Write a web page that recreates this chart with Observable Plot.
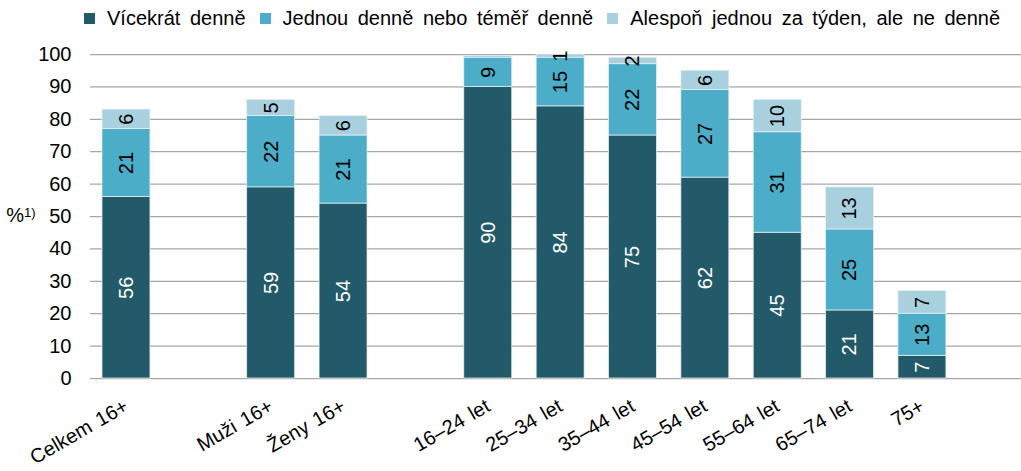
<!DOCTYPE html>
<html>
<head>
<meta charset="utf-8">
<script src="https://cdn.jsdelivr.net/npm/d3@7"></script>
<script src="https://cdn.jsdelivr.net/npm/@observablehq/plot@0.6"></script>
<style>
  body { margin: 0; background: white; font-family: "Liberation Sans", Arial, sans-serif; }
  #legend { height: 36px; width: 1021px; display: flex; flex-wrap: nowrap; align-items: center; padding-left: 84px; box-sizing: border-box; font-size: 20px; color: #000; word-spacing: 4px; white-space: nowrap; }
  #legend .item { display: flex; align-items: center; margin-right: 14px; flex-shrink: 0; white-space: nowrap; }
  #legend .sw { width: 11px; height: 11px; margin-right: 12px; flex-shrink: 0; }
  #chart svg text { word-spacing: 2px; }
</style>
</head>
<body>
<div id="legend"></div>
<div id="chart"></div>
<script>
const categories = ["Celkem 16+", "Muži 16+", "Ženy 16+", "16–24 let", "25–34 let", "35–44 let", "45–54 let", "55–64 let", "65–74 let", "75+"];
const slots = ["Celkem 16+", "gap1", "Muži 16+", "Ženy 16+", "gap2", "16–24 let", "25–34 let", "35–44 let", "45–54 let", "55–64 let", "65–74 let", "75+"];
const series = ["Vícekrát denně", "Jednou denně nebo téměř denně", "Alespoň jednou za týden, ale ne denně"];
const colors = ["#235a69", "#4badc7", "#a9d0de"];
const dark = [56, 59, 54, 90, 84, 75, 62, 45, 21, 7];
const mid = [21, 22, 21, 9, 15, 22, 27, 31, 25, 13];
const light = [6, 5, 6, 0.6, 1, 2, 6, 10, 13, 7];
const yTicks = [0, 10, 20, 30, 40, 50, 60, 70, 80, 90, 100];

const seriesValues = [dark, mid, light];
const rows = [];
categories.forEach((c, i) => {
  series.forEach((s, j) => rows.push({cat: c, series: s, value: seriesValues[j][i]}));
});

// legend
const legend = d3.select("#legend");
series.forEach((s, j) => {
  const it = legend.append("div").attr("class", "item");
  it.append("div").attr("class", "sw").style("background", colors[j]);
  it.append("span").text(s);
});

const label = d => d.value >= 1 ? String(d.value) : null;

const plot = Plot.plot({
  width: 1021,
  height: 435,
  marginLeft: 90,
  marginRight: 0,
  marginTop: 18,
  marginBottom: 93,
  style: {fontFamily: "'Liberation Sans', Arial, sans-serif", fontSize: "20px", color: "#000", background: "white", overflow: "visible"},
  x: {domain: slots, range: [77.6, 970.3], padding: 0.337, round: false, tickRotate: -30, tickSize: 0, tickPadding: 26,
      tickFormat: d => d.startsWith("gap") ? "" : d, label: null},
  y: {domain: [0, 100], ticks: yTicks, tickSize: 0, tickPadding: 19, label: null},
  color: {domain: series, range: colors},
  marks: [
    Plot.ruleY(yTicks, {stroke: "#a6a6a6", strokeWidth: 1.25}),
    Plot.barY(rows, {x: "cat", y: "value", fill: "series", stroke: "#e6f1f4", strokeWidth: 0.75}),
    Plot.text(rows, Plot.stackY({x: "cat", y: "value", text: d => d.series === series[0] ? label(d) : null,
      rotate: -90, fill: "white", fontSize: 20})),
    Plot.text(rows, Plot.stackY({x: "cat", y: "value", text: d => d.series !== series[0] ? label(d) : null,
      rotate: -90, fill: "black", fontSize: 20}))
  ]
});

const yScale = plot.scale("y");
const t = d3.select(plot).append("text")
  .attr("x", 21).attr("y", yScale.apply(50)).attr("dy", "0.32em")
  .attr("font-size", 20).attr("fill", "#000");
t.append("tspan").text("%");
t.append("tspan").attr("font-size", 13).attr("dy", "-0.45em").text("1)");

document.getElementById("chart").appendChild(plot);
</script>
</body>
</html>
